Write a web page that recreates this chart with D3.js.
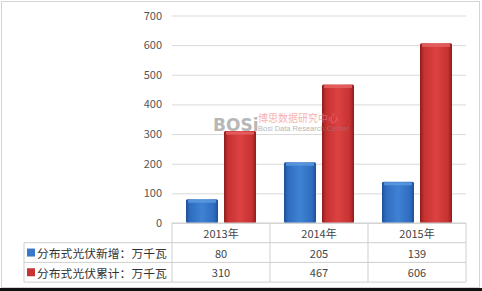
<!DOCTYPE html>
<html>
<head>
<meta charset="utf-8">
<script src="https://cdn.jsdelivr.net/npm/d3@7"></script>
<style>
  body { margin: 0; background: #fff; }
  svg { display: block; }
</style>
</head>
<body>
<div id="chart"></div>
<script>
var years = ["2013年", "2014年", "2015年"];
var seriesNames = ["分布式光伏新增：万千瓦", "分布式光伏累计：万千瓦"];
var added = [80, 205, 139];
var total = [310, 467, 606];
var yTicks = [0, 100, 200, 300, 400, 500, 600, 700];

var W = 482, H = 291;
var font = "'Noto Sans CJK SC', 'Noto Sans', sans-serif";

var svg = d3.select("#chart")
  .append("svg")
    .attr("width", W)
    .attr("height", H);

// outer frame
svg.append("rect")
  .attr("x", 1.5).attr("y", 1.5)
  .attr("width", 478).attr("height", 286)
  .attr("fill", "#fff")
  .attr("stroke", "#d4d4d4");
svg.append("rect")
  .attr("x", 0).attr("y", 288)
  .attr("width", W).attr("height", 3)
  .attr("fill", "#111");

var plotL = 172, plotR = 466, plotT = 15.5, plotB = 223;

var x = d3.scaleBand().domain(years).range([plotL, plotR]).paddingInner(0).paddingOuter(0);
var xs = d3.scaleBand().domain([0, 1]).range([0, x.bandwidth()]).paddingInner(0.158).paddingOuter(0.368);
var y = d3.scaleLinear().domain([0, 700]).range([plotB, plotT]);

// gradients for the bevelled bars
var defs = svg.append("defs");
function grad(id, stops) {
  var g = defs.append("linearGradient").attr("id", id)
    .attr("x1", 0).attr("x2", 1).attr("y1", 0).attr("y2", 0);
  stops.forEach(function(s) {
    g.append("stop").attr("offset", s[0]).attr("stop-color", s[1]);
  });
}
grad("gBlue", [[0, "#1d4f96"], [0.12, "#2f6cbf"], [0.5, "#3f82d4"], [0.88, "#2f6cbf"], [1, "#1d4f96"]]);
grad("gRed", [[0, "#8e1c1c"], [0.12, "#c53131"], [0.5, "#dc4242"], [0.88, "#c53131"], [1, "#8e1c1c"]]);

// gridlines
var yAxis = d3.axisLeft(y).tickValues(yTicks).tickSize(-(plotR - plotL)).tickPadding(10);
var ga = svg.append("g")
  .attr("transform", "translate(" + plotL + ",0)")
  .call(yAxis);
ga.select(".domain").remove();
ga.selectAll(".tick line").attr("stroke", "#d9d9d9");
ga.selectAll(".tick text")
  .attr("fill", "#555")
  .attr("font-family", font)
  .attr("font-size", "11px");

// bars
var series = [{ vals: added, fill: "url(#gBlue)", top: "#5d9be0" },
              { vals: total, fill: "url(#gRed)", top: "#e86464" }];
series.forEach(function(s, si) {
  var g = svg.append("g");
  g.selectAll("rect.bar").data(years).enter()
    .append("rect").attr("class", "bar")
    .attr("x", function(d) { return x(d) + xs(si); })
    .attr("y", function(d, i) { return y(s.vals[i]); })
    .attr("width", xs.bandwidth())
    .attr("height", function(d, i) { return plotB - y(s.vals[i]); })
    .attr("rx", 1.5)
    .attr("fill", s.fill);
  g.selectAll("rect.cap").data(years).enter()
    .append("rect").attr("class", "cap")
    .attr("x", function(d) { return x(d) + xs(si) + 2; })
    .attr("y", function(d, i) { return y(s.vals[i]) + 0.5; })
    .attr("width", xs.bandwidth() - 4)
    .attr("height", 3)
    .attr("fill", s.top)
    .attr("opacity", 0.8);
});

// watermark (drawn over the bars)
var wm = svg.append("g").attr("opacity", 0.6);
wm.append("text").attr("x", 213).attr("y", 131)
  .attr("font-family", "'DejaVu Sans', sans-serif").attr("font-weight", "bold")
  .attr("font-size", "17px").attr("fill", "#888").text("BOSi");
wm.append("text").attr("x", 258).attr("y", 122)
  .attr("font-family", font).attr("font-size", "10px").attr("fill", "#f08080").text("博思数据研究中心");
wm.append("text").attr("x", 258).attr("y", 131)
  .attr("font-family", "'Liberation Sans Narrow', 'Liberation Sans', sans-serif")
  .attr("font-size", "7.5px").attr("fill", "#888").text("Bosi Data Research Center");

// data table
var rowH = 19.7, tTop = plotB, tLeft = 24;
var lineC = "#cfcfcf";
var tbl = svg.append("g").attr("fill", "none").attr("stroke", lineC);
// horizontal lines
tbl.append("line").attr("x1", plotL).attr("x2", plotR).attr("y1", tTop).attr("y2", tTop);
[1, 2, 3].forEach(function(r) {
  tbl.append("line").attr("x1", tLeft).attr("x2", plotR)
    .attr("y1", tTop + r * rowH).attr("y2", tTop + r * rowH);
});
// vertical lines
tbl.append("line").attr("x1", tLeft).attr("x2", tLeft).attr("y1", tTop + rowH).attr("y2", tTop + 3 * rowH);
years.forEach(function(d) {
  tbl.append("line").attr("x1", x(d)).attr("x2", x(d)).attr("y1", tTop).attr("y2", tTop + 3 * rowH);
});
tbl.append("line").attr("x1", plotR).attr("x2", plotR).attr("y1", tTop).attr("y2", tTop + 3 * rowH);

function cellText(tx, ty, t) {
  svg.append("text").attr("x", tx).attr("y", ty)
    .attr("text-anchor", "middle").attr("dominant-baseline", "central")
    .attr("font-family", font).attr("font-size", "11px").attr("fill", "#444")
    .text(t);
}
years.forEach(function(d, i) {
  var cx = x(d) + x.bandwidth() / 2;
  cellText(cx, tTop + rowH * 0.5, d);
  cellText(cx, tTop + rowH * 1.5, added[i]);
  cellText(cx, tTop + rowH * 2.5, total[i]);
});

// legend keys inside table
var keyFill = ["#3a78c8", "#c83434"];
seriesNames.forEach(function(n, i) {
  var cy = tTop + rowH * (i + 1.5);
  svg.append("rect").attr("x", 27).attr("y", cy - 4).attr("width", 8).attr("height", 8)
    .attr("fill", keyFill[i]);
  svg.append("text").attr("x", 37).attr("y", cy)
    .attr("dominant-baseline", "central")
    .attr("font-family", font).attr("font-size", "11.8px").attr("fill", "#333")
    .text(n);
});
</script>
</body>
</html>
